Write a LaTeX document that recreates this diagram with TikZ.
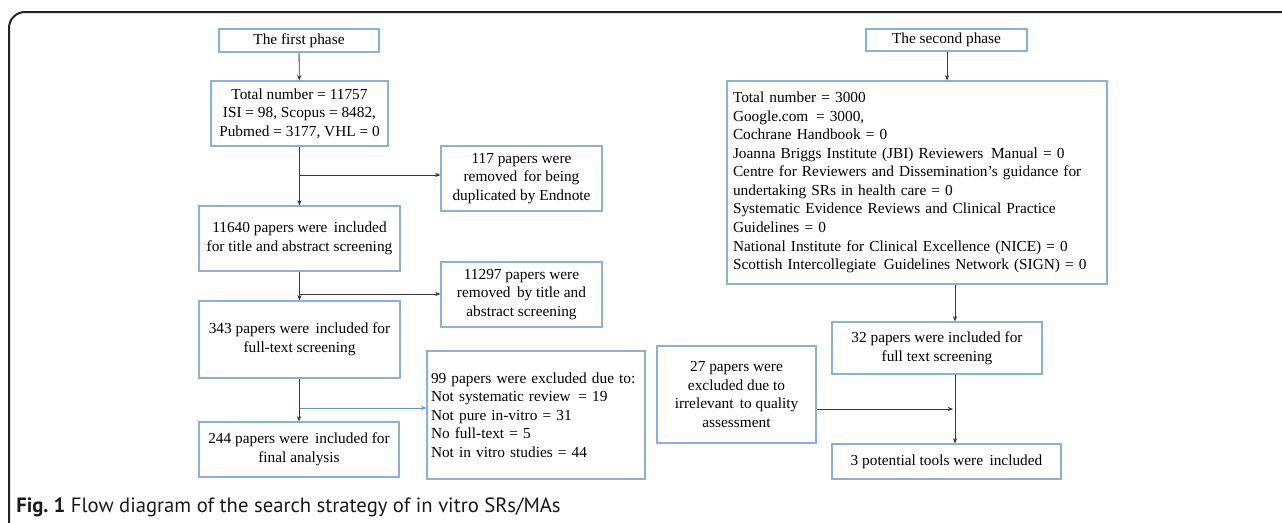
\documentclass[tikz,border=0pt]{standalone}
\usepackage{fontspec}
\setmainfont{Liberation Serif}
\newfontfamily\capfont{PT Sans}
\usetikzlibrary{arrows.meta}
\newlength\px \setlength\px{0.75pt}
\definecolor{boxblue}{RGB}{141,176,217}
\definecolor{arrgray}{RGB}{55,55,55}
\definecolor{arrblue}{RGB}{91,155,213}
\definecolor{frame}{RGB}{35,35,35}
\begin{document}
\begin{tikzpicture}[x=0.75pt,y=-0.75pt,
  box/.style={draw=boxblue,line width=0.9pt,inner sep=0pt,align=center,
    font=\fontsize{11.5}{13.9}\selectfont},
  lbox/.style={box,align=left},
  arr/.style={draw=arrgray,line width=0.6pt,-{Stealth[length=4pt,width=3.2pt]}},
  barr/.style={arr,draw=arrblue,-{Stealth[length=4pt,width=3.2pt,color=arrblue]}},
  capt/.style={font=\capfont\fontsize{15.5}{18}\selectfont,text=black!90,inner sep=0pt}
  ]
\useasboundingbox (0,0) rectangle (1282,522);
\draw[line width=1.5pt,frame,rounded corners=12pt] (9,540) -- (9,12) -- (1300,12);

% first phase
\node[box,minimum width=160\px,minimum height=23\px] (p1) at (299,40.5) {The first phase};
\node[box,minimum width=177\px,minimum height=65\px] (tot1) at (299.5,113.5)
  {Total number = 11757\\ISI = 98, Scopus = 8482,\\Pubmed = 3177, VHL = 0};
\node[box,minimum width=161\px,minimum height=65\px] (rem1) at (521.5,178.5)
  {117 papers were\\removed\, for being\\duplicated by Endnote};
\node[box,minimum width=201\px,minimum height=65\px] (inc1) at (299.5,238.5)
  {11640 papers were\, included\\for title and abstract screening};
\node[box,minimum width=161\px,minimum height=65\px] (rem2) at (521.5,294.5)
  {11297 papers were\\removed\, by title and\\abstract screening};
\node[box,minimum width=201\px,minimum height=77\px] (inc2) at (299.5,339.5)
  {343 papers were\, included for\\full-text screening};
\node[lbox,text width=210\px,inner xsep=4\px,minimum height=128\px] (exc1) at (536,415)
  {99 papers were excluded due to:\\Not systematic review\, = 19\\Not pure in-vitro = 31\\No full-text = 5\\Not in vitro studies = 44};
\node[box,minimum width=200\px,minimum height=55\px] (inc3) at (299,449.5)
  {244 papers were\, included for\\final analysis};

\draw[arr] (p1) -- (tot1);
\draw[arr] (tot1) -- (inc1);
\coordinate (j1) at (299,175);
\draw[arr] (j1) -- (rem1.west |- j1);
\draw[arr] (inc1) -- (inc2);
\coordinate (j2) at (299,294);
\draw[arr] (j2) -- (rem2.west |- j2);
\draw[arr] (inc2.south -| j2) -- (inc3.north -| j2);
\coordinate (j3) at (300,408);
\draw[barr] (j3) -- (exc1.west |- j3);

% second phase
\node[box,minimum width=161\px,minimum height=22\px] (p2) at (946.5,40) {The second phase};
\node[lbox,text width=368\px,inner xsep=6\px,minimum height=203\px] (tot2) at (917,182.5)
  {Total number = 3000\\Google.com\, = 3000,\\Cochrane Handbook = 0\\Joanna Briggs Institute (JBI) Reviewers\, Manual = 0\\Centre for Reviewers and Dissemination’s guidance for\\undertaking SRs in health care = 0\\Systematic Evidence Reviews and Clinical Practice\\Guidelines = 0\\National Institute for Clinical Excellence (NICE) = 0\\Scottish Intercollegiate\, Guidelines Network (SIGN) = 0};
\node[box,minimum width=210\px,minimum height=52\px] (inc4) at (937,348)
  {32 papers were included for\\full text screening};
\node[box,minimum width=159\px,minimum height=97\px] (exc2) at (736.5,394.5)
  {27 papers were\\excluded due to\\irrelevant\, to quality\\assessment};
\node[box,minimum width=229\px,minimum height=35\px] (fin) at (946.5,461.5)
  {3 potential tools were\, included};

\coordinate (k0) at (947,0);
\draw[arr] (p2.south -| k0) -- (tot2.north -| k0);
\coordinate (k1) at (955,0);
\draw[arr] (tot2.south -| k1) -- (inc4.north -| k1);
\draw[arr] (inc4.south -| k1) -- (fin.north -| k1);
\coordinate (k2) at (953,409);
\draw[arr] (exc2.east |- k2) -- (k2);

% caption
\node[capt,anchor=base west] (cap) at (16,512)
  {\textbf{Fig.\ 1} Flow diagram of the search strategy of in vitro SRs/MAs};
\end{tikzpicture}
\end{document}
